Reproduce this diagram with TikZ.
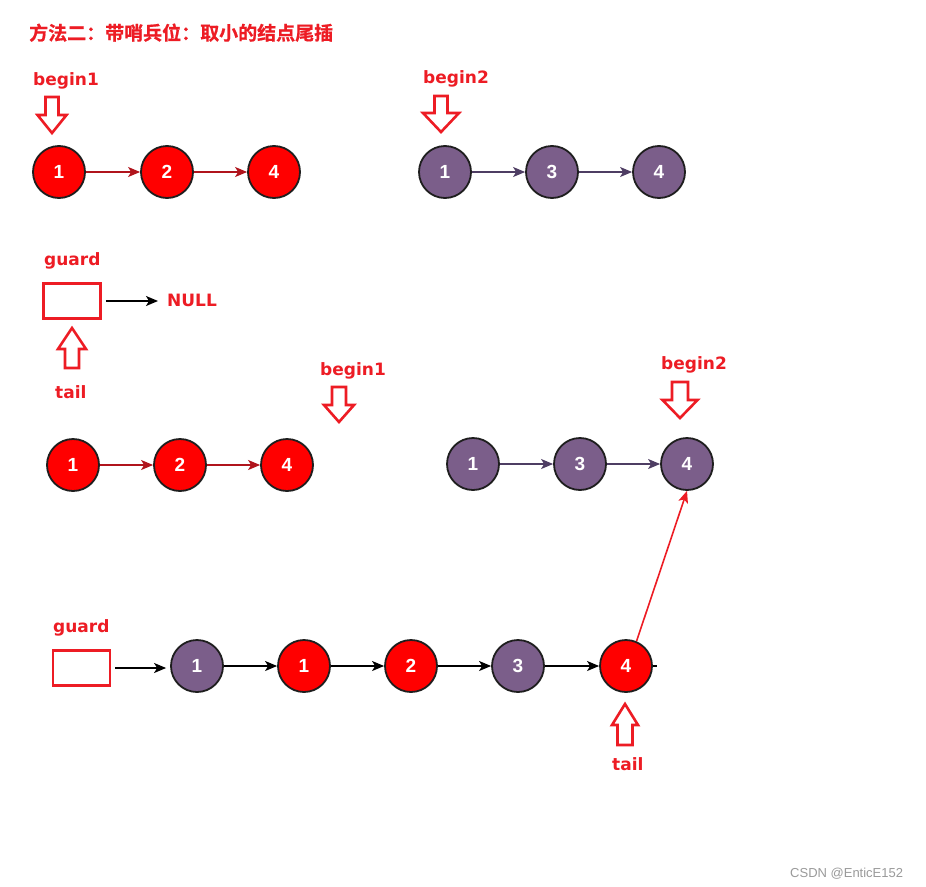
\documentclass[tikz,border=0pt]{standalone}
\usepackage{fontspec}
\setmainfont{Liberation Sans}
\newfontfamily\cjkfont{Noto Sans CJK SC Bold}[FakeBold=0.8]
\newfontfamily\lblfont{DejaVu Sans Bold}
\newfontfamily\numfont{Liberation Sans Bold}
\usetikzlibrary{arrows.meta}
\definecolor{lred}{HTML}{ED1C24}
\definecolor{cred}{HTML}{FF0000}
\definecolor{cpurple}{HTML}{7B5E8A}
\definecolor{cborder}{HTML}{1E1E1E}
\definecolor{darkred}{HTML}{B0141C}
\definecolor{darkpurple}{HTML}{4E3D63}
\definecolor{wmgray}{HTML}{9A9A9A}
\newcommand\hollowdown[6]{%
  \draw[hollow] ({#1-#4},{#2-#6}) -- ({#1+#4},{#2-#6}) -- ({#1+#4},{#2-#5}) -- ({#1+#3},{#2-#5})
    -- (#1,#2) -- ({#1-#3},{#2-#5}) -- ({#1-#4},{#2-#5}) -- cycle;}
\newcommand\hollowup[6]{%
  \draw[hollow] ({#1-#4},{#2+#6}) -- ({#1+#4},{#2+#6}) -- ({#1+#4},{#2+#5}) -- ({#1+#3},{#2+#5})
    -- (#1,#2) -- ({#1-#3},{#2+#5}) -- ({#1-#4},{#2+#5}) -- cycle;}
\begin{document}
\begin{tikzpicture}[x=1pt,y=-1pt,
  lbl/.style={text=lred,font=\lblfont\fontsize{17}{17}\selectfont,inner sep=0pt,anchor=base west},
  rn/.style={circle,draw=cborder,line width=1.8pt,fill=cred,minimum size=52pt,inner sep=0pt,
    text=white,font=\numfont\fontsize{19}{19}\selectfont},
  pn/.style={rn,fill=cpurple},
  tip/.style={-{Stealth[length=12pt,width=10pt,inset=3pt]}},
  rarr/.style={tip,draw=darkred,line width=1.3pt},
  parr/.style={tip,draw=darkpurple,line width=1.3pt},
  barr/.style={tip,draw=black,line width=1.5pt},
  hollow/.style={draw=lred,line width=2.6pt,line join=miter,fill=white},
  gbox/.style={draw=lred,line width=2.6pt,minimum width=57pt,minimum height=35pt,inner sep=0pt}]
\useasboundingbox[fill=white] (0,0) rectangle (926,886);

% title
\node[lbl,font=\cjkfont\fontsize{19}{19}\selectfont] (title) at (29,40) {方法二：带哨兵位：取小的结点尾插};

% row 1
\node[lbl] (b1a) at (33,85) {begin1};
\hollowdown{52}{133}{14.5}{6.5}{18}{36}
\node[rn] (a1) at (59,172) {1};
\node[rn] (a2) at (167,172) {2};
\node[rn] (a3) at (274,172) {4};
\draw[rarr] (a1) -- (a2);
\draw[rarr] (a2) -- (a3);

\node[lbl] (b2a) at (423,83) {begin2};
\hollowdown{441}{132}{18}{6.5}{19}{36}
\node[pn] (c1) at (445,172) {1};
\node[pn] (c2) at (552,172) {3};
\node[pn] (c3) at (659,172) {4};
\draw[parr] (c1) -- (c2);
\draw[parr] (c2) -- (c3);

% guard + NULL
\node[lbl] (g1) at (44,265) {guard};
\node[gbox] (box1) at (72,301) {};
\node[lbl] (null) at (167,306) {NULL};
\draw[barr] ([xshift=4pt]box1.east) -- ([xshift=-9pt]null.west |- box1.east);
\hollowup{72}{328}{14}{7}{21}{40}
\node[lbl] (t1) at (55,398) {tail};

% row 3
\node[lbl] (b1b) at (320,375) {begin1};
\hollowdown{339}{422}{15}{7}{17}{35}
\node[rn] (d1) at (73,465) {1};
\node[rn] (d2) at (180,465) {2};
\node[rn] (d3) at (287,465) {4};
\draw[rarr] (d1) -- (d2);
\draw[rarr] (d2) -- (d3);

\node[lbl] (b2b) at (661,369) {begin2};
\hollowdown{680}{418}{17.5}{8}{18}{36}
\node[pn] (e1) at (473,464) {1};
\node[pn] (e2) at (580,464) {3};
\node[pn] (e3) at (687,464) {4};
\draw[parr] (e1) -- (e2);
\draw[parr] (e2) -- (e3);

% bottom row
\node[lbl] (g2) at (53,632) {guard};
\node[gbox] (box2) at (81.5,668) {};
\node[pn] (f1) at (197,666) {1};
\node[rn] (f2) at (304,666) {1};
\node[rn] (f3) at (411,666) {2};
\node[pn] (f4) at (518,666) {3};
\node[rn] (f5) at (626,666) {4};
\draw[barr] ([xshift=4pt]box2.east) -- ([xshift=-4pt]box2.east -| f1.west);
\draw[barr] (f1) -- (f2);
\draw[barr] (f2) -- (f3);
\draw[barr] (f3) -- (f4);
\draw[barr] (f4) -- (f5);
\coordinate (stub) at ([xshift=4pt]f5.east);
\draw[black,line width=1.3pt] (f5.east) -- (stub);
\draw[-{Stealth[length=12pt,width=10pt,inset=3pt]},draw=lred,line width=1.6pt] (f5.67) -- (e3.south);
\hollowup{625}{704}{13}{7.5}{21}{41}
\node[lbl] (t2) at (612,770) {tail};

\node[text=wmgray,font=\fontsize{13}{13}\selectfont,inner sep=0pt,anchor=base west] (wm) at (790,877) {CSDN @EnticE152};
\end{tikzpicture}
\end{document}
